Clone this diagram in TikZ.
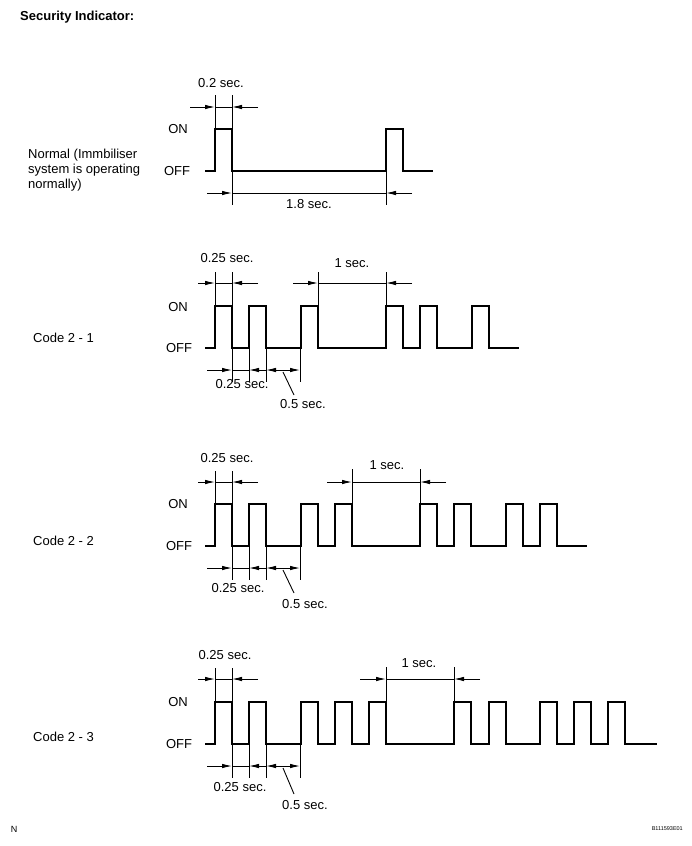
\documentclass[tikz,border=0pt]{standalone}
\usepackage{fontspec}
\setmainfont{Liberation Sans}
\usetikzlibrary{arrows.meta}

\tikzset{
  wave/.style={line width=2pt},
  dimline/.style={line width=0.9pt},
  dimarrow/.style={dimline, -{Latex[length=10pt,width=4.5pt]}},
  botharrow/.style={dimline, {Latex[length=10pt,width=4.5pt]}-{Latex[length=10pt,width=4.5pt]}},
  lbl/.style={font=\fontsize{13}{15}\selectfont, inner sep=0pt},
}

% #1 = OFF level, #2 = pulse starts (in 0.25 sec steps), #3 = end of line
\newcommand{\wavetrain}[3]{%
  \draw[wave] (205,#1) foreach \p in {#2} {
      -- ({215+round(\p*17.1)},#1) -- ({215+round(\p*17.1)},#1-42)
      -- ({232+round(\p*17.1)},#1-42) -- ({232+round(\p*17.1)},#1) } -- (#3,#1);
}

\begin{document}
\begin{tikzpicture}[x=1pt, y=-1pt]

            \useasboundingbox (0,0) rectangle (691,846);

            \node[lbl, font=\fontsize{13}{15}\selectfont\bfseries, anchor=west] (title) at (20,17) {Security Indicator:};

            % normal
            \node[lbl, anchor=west] (norm1) at (28,155) {Normal (Immbiliser};
            \node[lbl, anchor=west] (norm2) at (28,170) {system is operating};
            \node[lbl, anchor=west] (norm3) at (28,185) {normally)};
            \node[lbl] (on0) at (178,129) {ON};
            \node[lbl] (off0) at (177,171) {OFF};

            \wavetrain{171}{0,10}{433}

            \draw[dimline] (215,95) -- (215,129);
            \draw[dimline] (232,95) -- (232,129);
            \draw[dimarrow] (190,107) -- (215,107);
            \draw[dimline] (215,107) -- (232,107);
            \draw[dimarrow] (258,107) -- (232,107);
            \node[lbl] (t0a) at (221,83) {0.2 sec.};

            \draw[dimline] (232,171) -- (232,205);
            \draw[dimline] (386,171) -- (386,205);
            \draw[dimarrow] (207,193) -- (232,193);
            \draw[dimline] (232,193) -- (386,193);
            \draw[dimarrow] (412,193) -- (386,193);
            \node[lbl] (t0b) at (309,204) {1.8 sec.};

            % code 2 - 1
            \node[lbl, anchor=west] (code1) at (33,338) {Code 2 - 1};
            \node[lbl] (on1) at (178,307) {ON};
            \node[lbl] (off1) at (179,348) {OFF};

            \wavetrain{348}{0,2,5,10,12,15}{519}

            \draw[dimline] (215,272) -- (215,306);
            \draw[dimline] (232,272) -- (232,306);
            \draw[dimarrow] (198,283) -- (215,283);
            \draw[dimline] (215,283) -- (232,283);
            \draw[dimarrow] (258,283) -- (232,283);
            \node[lbl] (t1a) at (227,258) {0.25 sec.};

            \draw[dimline] (318,272) -- (318,306);
            \draw[dimline] (386,272) -- (386,306);
            \draw[dimarrow] (293,283) -- (318,283);
            \draw[dimline] (318,283) -- (386,283);
            \draw[dimarrow] (412,283) -- (386,283);
            \node[lbl] (t1b) at (352,263) {1 sec.};

            \foreach \x in {232,249,266,300}
              \draw[dimline] (\x,348) -- (\x,382);
            \draw[dimarrow] (207,370) -- (232,370);
            \draw[dimline] (232,370) -- (249,370);
            \draw[dimarrow] (266,370) -- (249,370);
            \draw[botharrow] (266,370) -- (300,370);
            \draw[dimline] (283,372) -- (294,395);
            \node[lbl] (t1c) at (242,384) {0.25 sec.};
            \node[lbl] (t1d) at (303,404) {0.5 sec.};

            % code 2 - 2
            \node[lbl, anchor=west] (code2) at (33,541) {Code 2 - 2};
            \node[lbl] (on2) at (178,504) {ON};
            \node[lbl] (off2) at (179,546) {OFF};

            \wavetrain{546}{0,2,5,7,12,14,17,19}{587}

            \draw[dimline] (215,471) -- (215,504);
            \draw[dimline] (232,471) -- (232,504);
            \draw[dimarrow] (198,482) -- (215,482);
            \draw[dimline] (215,482) -- (232,482);
            \draw[dimarrow] (258,482) -- (232,482);
            \node[lbl] (t2a) at (227,458) {0.25 sec.};

            \draw[dimline] (352,469) -- (352,504);
            \draw[dimline] (420,469) -- (420,504);
            \draw[dimarrow] (327,482) -- (352,482);
            \draw[dimline] (352,482) -- (420,482);
            \draw[dimarrow] (446,482) -- (420,482);
            \node[lbl] (t2b) at (387,465) {1 sec.};

            \foreach \x in {232,249,266,300}
              \draw[dimline] (\x,546) -- (\x,580);
            \draw[dimarrow] (207,568) -- (232,568);
            \draw[dimline] (232,568) -- (249,568);
            \draw[dimarrow] (266,568) -- (249,568);
            \draw[botharrow] (266,568) -- (300,568);
            \draw[dimline] (283,570) -- (294,593);
            \node[lbl] (t2c) at (238,588) {0.25 sec.};
            \node[lbl] (t2d) at (305,604) {0.5 sec.};

            % code 2 - 3
            \node[lbl, anchor=west] (code3) at (33,737) {Code 2 - 3};
            \node[lbl] (on3) at (178,702) {ON};
            \node[lbl] (off3) at (179,744) {OFF};

            \wavetrain{744}{0,2,5,7,9,14,16,19,21,23}{657}

            \draw[dimline] (215,668) -- (215,702);
            \draw[dimline] (232,668) -- (232,702);
            \draw[dimarrow] (198,679) -- (215,679);
            \draw[dimline] (215,679) -- (232,679);
            \draw[dimarrow] (258,679) -- (232,679);
            \node[lbl] (t3a) at (225,655) {0.25 sec.};

            \draw[dimline] (386,667) -- (386,702);
            \draw[dimline] (454,667) -- (454,702);
            \draw[dimarrow] (360,679) -- (386,679);
            \draw[dimline] (386,679) -- (454,679);
            \draw[dimarrow] (480,679) -- (454,679);
            \node[lbl] (t3b) at (419,663) {1 sec.};

            \foreach \x in {232,249,266,300}
              \draw[dimline] (\x,744) -- (\x,778);
            \draw[dimarrow] (207,766) -- (232,766);
            \draw[dimline] (232,766) -- (249,766);
            \draw[dimarrow] (266,766) -- (249,766);
            \draw[botharrow] (266,766) -- (300,766);
            \draw[dimline] (283,768) -- (294,794);
            \node[lbl] (t3c) at (240,787) {0.25 sec.};
            \node[lbl] (t3d) at (305,805) {0.5 sec.};

            % corners
            \node[inner sep=0pt, font=\fontsize{9}{10}\selectfont] (corner) at (14,829) {N};
            \node[inner sep=0pt, font=\fontsize{5.5}{6}\selectfont, anchor=east] (figno) at (683,829) {B111593E01};

        \end{tikzpicture}
\end{document}
